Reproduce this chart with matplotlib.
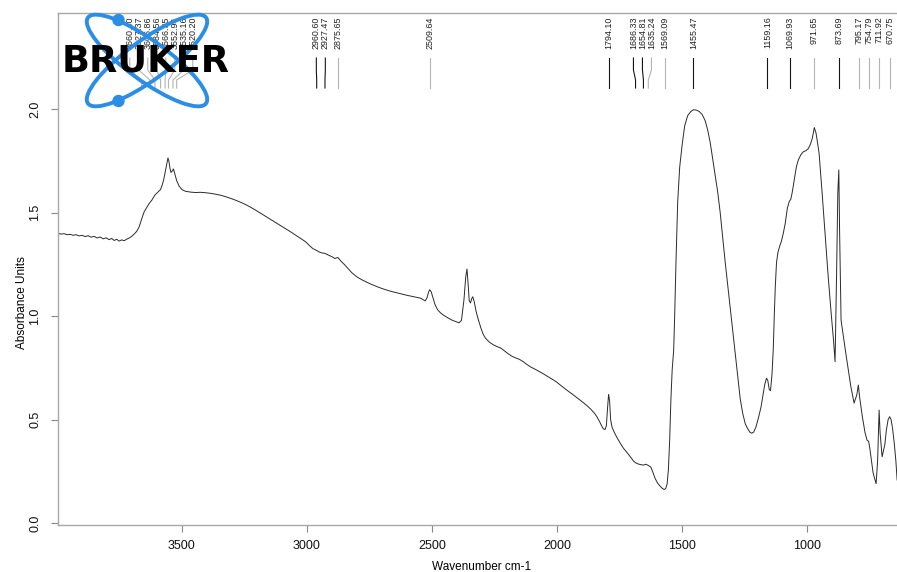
import numpy as np
import matplotlib
matplotlib.use("Agg")
import matplotlib.pyplot as plt
from matplotlib.patches import Ellipse, Circle
from matplotlib.transforms import blended_transform_factory

plt.rcParams['font.family'] = ['Liberation Sans', 'DejaVu Sans']

# ---------------- data ----------------
wavenumber = [
    3994, 3982, 3970, 3958, 3946, 3934, 3922, 3910, 3898, 3886, 3874, 3862, 3850, 3838, 3826,
    3814, 3802, 3790, 3780, 3770, 3760, 3750, 3740, 3730, 3720, 3710, 3700, 3690, 3680, 3670,
    3660, 3650, 3640, 3630, 3620, 3607, 3595, 3585, 3578, 3572, 3566, 3560, 3555, 3551, 3547,
    3543, 3539, 3533, 3528, 3520, 3510, 3499, 3485, 3465, 3445, 3425, 3405, 3385, 3365, 3345,
    3325, 3305, 3285, 3265, 3245, 3225, 3205, 3185, 3165, 3145, 3125, 3105, 3085, 3065, 3045,
    3025, 3005, 2990, 2975, 2961, 2950, 2940, 2928, 2915, 2900, 2888, 2876, 2865, 2850, 2835,
    2820, 2800, 2780, 2760, 2740, 2720, 2700, 2680, 2660, 2640, 2620, 2600, 2580, 2560, 2545,
    2535, 2527, 2520, 2514, 2509, 2503, 2496, 2488, 2478, 2465, 2450, 2435, 2420, 2405, 2392,
    2382, 2372, 2365, 2360, 2356, 2351, 2346, 2341, 2337, 2331, 2323, 2315, 2305, 2295, 2285,
    2270, 2255, 2240, 2225, 2210, 2195, 2180, 2165, 2150, 2135, 2120, 2105, 2090, 2075, 2060,
    2045, 2030, 2015, 2000, 1985, 1970, 1955, 1940, 1925, 1910, 1895, 1880, 1865, 1850, 1840,
    1830, 1822, 1815, 1808, 1803, 1798, 1794, 1790, 1786, 1780, 1770, 1760, 1748, 1735, 1720,
    1707, 1695, 1685, 1675, 1665, 1655, 1645, 1635, 1625, 1617, 1608, 1598, 1588, 1580, 1572,
    1566, 1560, 1555, 1550, 1545, 1540, 1534, 1530, 1525, 1518, 1510, 1500, 1490, 1478, 1465,
    1455, 1445, 1432, 1420, 1408, 1398, 1388, 1378, 1368, 1358, 1348, 1338, 1328, 1318, 1308,
    1298, 1288, 1278, 1268, 1258, 1248, 1240, 1230, 1222, 1214, 1205, 1195, 1185, 1178, 1170,
    1163, 1158, 1152, 1147, 1141, 1136, 1132, 1128, 1123, 1117, 1110, 1104, 1096, 1088, 1080,
    1072, 1066, 1060, 1052, 1044, 1036, 1026, 1016, 1006, 996, 988, 980, 972, 965, 953,
    941, 929, 917, 905, 895, 889, 883, 878, 874, 871, 865, 846, 826, 813, 802,
    796, 791, 780, 769, 761, 755, 750, 737, 725, 719, 713, 709, 701, 690, 684,
    677, 671, 665, 659, 652, 646, 641]

absorbance = [
    1.400, 1.397, 1.399, 1.394, 1.396, 1.391, 1.394, 1.388, 1.391, 1.385, 1.389, 1.382, 1.386, 1.378, 1.383,
    1.374, 1.379, 1.370, 1.376, 1.366, 1.372, 1.363, 1.369, 1.365, 1.372, 1.378, 1.386, 1.397, 1.410, 1.432,
    1.470, 1.505, 1.525, 1.545, 1.560, 1.586, 1.600, 1.612, 1.634, 1.660, 1.697, 1.735, 1.765, 1.748, 1.716,
    1.695, 1.700, 1.712, 1.690, 1.655, 1.628, 1.612, 1.604, 1.600, 1.598, 1.599, 1.597, 1.594, 1.590, 1.585,
    1.578, 1.570, 1.561, 1.551, 1.540, 1.527, 1.513, 1.498, 1.483, 1.468, 1.453, 1.438, 1.423, 1.408, 1.392,
    1.376, 1.360, 1.342, 1.326, 1.318, 1.310, 1.306, 1.304, 1.296, 1.288, 1.279, 1.284, 1.268, 1.250, 1.230,
    1.210, 1.190, 1.176, 1.164, 1.153, 1.143, 1.134, 1.126, 1.119, 1.113, 1.107, 1.101, 1.096, 1.091, 1.087,
    1.080, 1.074, 1.088, 1.115, 1.128, 1.118, 1.090, 1.057, 1.032, 1.015, 1.002, 0.991, 0.981, 0.974, 0.968,
    0.980, 1.080, 1.190, 1.228, 1.165, 1.075, 1.064, 1.085, 1.094, 1.070, 1.020, 0.985, 0.945, 0.912, 0.892,
    0.874, 0.862, 0.853, 0.846, 0.832, 0.818, 0.806, 0.798, 0.791, 0.780, 0.766, 0.754, 0.745, 0.735, 0.725,
    0.714, 0.703, 0.692, 0.680, 0.665, 0.651, 0.637, 0.624, 0.610, 0.596, 0.582, 0.567, 0.550, 0.530, 0.512,
    0.490, 0.470, 0.455, 0.452, 0.470, 0.560, 0.622, 0.590, 0.500, 0.462, 0.435, 0.412, 0.387, 0.362, 0.340,
    0.320, 0.300, 0.290, 0.285, 0.282, 0.280, 0.284, 0.278, 0.270, 0.245, 0.215, 0.192, 0.178, 0.168, 0.162,
    0.166, 0.190, 0.260, 0.400, 0.600, 0.740, 0.836, 1.000, 1.250, 1.550, 1.720, 1.830, 1.920, 1.970, 1.990,
    1.998, 1.997, 1.990, 1.975, 1.945, 1.900, 1.840, 1.760, 1.680, 1.600, 1.500, 1.380, 1.260, 1.150, 1.040,
    0.930, 0.820, 0.710, 0.600, 0.530, 0.480, 0.460, 0.440, 0.434, 0.440, 0.465, 0.510, 0.560, 0.610, 0.670,
    0.700, 0.690, 0.645, 0.640, 0.720, 0.840, 1.000, 1.140, 1.260, 1.310, 1.340, 1.360, 1.400, 1.450, 1.520,
    1.555, 1.565, 1.600, 1.660, 1.720, 1.755, 1.780, 1.795, 1.800, 1.810, 1.830, 1.860, 1.912, 1.885, 1.790,
    1.600, 1.400, 1.200, 1.020, 0.880, 0.780, 1.200, 1.600, 1.707, 1.420, 0.980, 0.820, 0.660, 0.580, 0.620,
    0.667, 0.610, 0.514, 0.435, 0.400, 0.395, 0.360, 0.242, 0.190, 0.300, 0.546, 0.435, 0.320, 0.380, 0.450,
    0.500, 0.514, 0.500, 0.455, 0.380, 0.300, 0.208]

peak_labels = [3660.40, 3627.37, 3606.86, 3584.56, 3566.35, 3552.94, 3535.16, 3520.20,
               2960.60, 2927.47, 2875.65, 2509.64,
               1794.10, 1686.33, 1654.81, 1635.24, 1569.09, 1455.47,
               1159.16, 1069.93, 971.65, 873.69, 795.17, 754.79, 711.92, 670.75]
label_dark = [False, False, False, False, False, False, False, False,
              True, True, False, False,
              True, True, True, False, False, True,
              True, True, False, True, False, False, False, False]

x_ticks = [3500, 3000, 2500, 2000, 1500, 1000]
y_ticks = [0.0, 0.5, 1.0, 1.5, 2.0]
x_label = "Wavenumber cm-1"
y_label = "Absorbance Units"
logo_text = "BRUKER"

# ---------------- figure ----------------
W, H = 897, 572
fig = plt.figure(figsize=(W / 100, H / 100), dpi=100)
ax_l, ax_r, ax_t, ax_b = 58, 897, 13, 525
ax = fig.add_axes([ax_l / W, 1 - ax_b / H, (ax_r - ax_l) / W, (ax_b - ax_t) / H])

ax.plot(wavenumber, absorbance, color='#2a2a2a', lw=0.7)
ax.set_xlim(3994.4, 641.5)
ax.set_ylim(-0.0097, 2.466)

spine_c = '#a8a8a8'
for s in ['left', 'bottom', 'top']:
    ax.spines[s].set_color(spine_c)
    ax.spines[s].set_linewidth(1.0)
ax.spines['right'].set_visible(False)

ax.set_xticks(x_ticks)
ax.set_xticklabels([str(v) for v in x_ticks])
ax.set_yticks(y_ticks)
ax.set_yticklabels([f"{v:.1f}" for v in y_ticks], rotation=90, va='center')
ax.tick_params(axis='both', which='both', direction='out', length=5, width=0.8,
               color='#888888', labelsize=9, labelcolor='#111111')
ax.tick_params(axis='x', pad=6)
ax.tick_params(axis='y', pad=7)

ax.set_xlabel(x_label, fontsize=8.5)
ax.set_ylabel(y_label, fontsize=8.5)
ax.xaxis.set_label_coords((481.7 - ax_l) / (ax_r - ax_l), (ax_b - 567) / (ax_b - ax_t))
ax.xaxis.label.set_va('center')
ax.yaxis.set_label_coords((22 - ax_l) / (ax_r - ax_l), (ax_b - 303) / (ax_b - ax_t))
ax.yaxis.label.set_va('center')

# ---------------- peak labels ----------------
fig.canvas.draw()
trans = blended_transform_factory(ax.transData, ax.transAxes)
px = [ax.transData.transform((w, 0))[0] for w in peak_labels]
order = np.argsort(px)
pos = [px[i] for i in order]
sep = 9.0
for _ in range(1000):
    moved = False
    for i in range(len(pos) - 1):
        d = pos[i + 1] - pos[i]
        if d < sep - 1e-6:
            sh = (sep - d) / 2
            pos[i] -= sh
            pos[i + 1] += sh
            moved = True
    if not moved:
        break
text_px = [0.0] * len(px)
for k, i in enumerate(order):
    text_px[i] = pos[k]

def yfrac(ypix):
    return (ax_b - ypix) / (ax_b - ax_t)

inv = ax.transData.inverted()
for w, tp, dark in zip(peak_labels, text_px, label_dark):
    tx = inv.transform((tp, 0))[0]
    col = '#151515' if dark else '#b4b4b4'
    ax.plot([tx, tx, w, w], [yfrac(58), yfrac(70), yfrac(80), yfrac(88)],
            transform=trans, color=col, lw=0.8, clip_on=False)
    ax.text(tx, yfrac(16.5), f"{w:.2f}", rotation=90, ha='center', va='top',
            transform=trans, fontsize=6.4, color='#202020', clip_on=False)

# ---------------- logo ----------------
lax = fig.add_axes([55 / W, 1 - 112 / H, 185 / W, 102 / H])
lax.set_xlim(55, 240)
lax.set_ylim(112, 10)
lax.axis('off')
lax.patch.set_alpha(0)
blue = '#2a8ee6'
lax.add_patch(Ellipse((147, 60.5), 146, 40, angle=36, fill=False, ec=blue, lw=2.8))
lax.add_patch(Ellipse((147, 60.5), 146, 40, angle=-36, fill=False, ec=blue, lw=2.8))
lax.add_patch(Circle((118.5, 20), 5.5, color=blue))
lax.add_patch(Circle((118.5, 101), 5.5, color=blue))
lax.text(146, 61, logo_text, ha='center', va='center', fontsize=26.5,
         fontweight='bold', family='DejaVu Sans', color='black')

fig.savefig('out.png', dpi=100)
